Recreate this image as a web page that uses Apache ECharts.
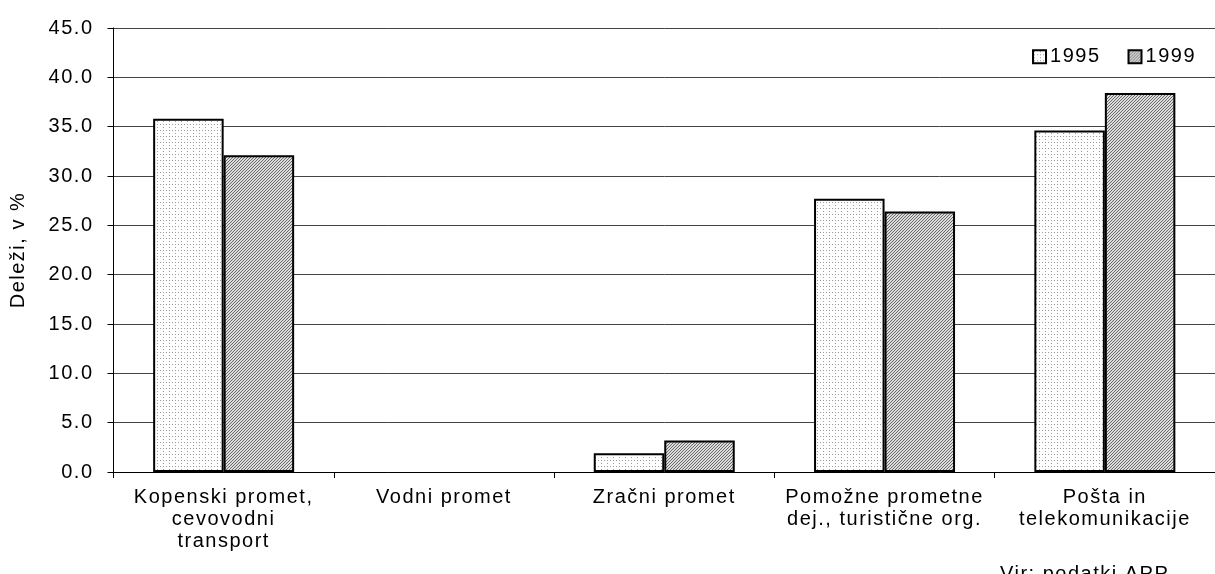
<!DOCTYPE html>
<html>
<head>
<meta charset="utf-8">
<script src="https://cdn.jsdelivr.net/npm/echarts@6/dist/echarts.min.js"></script>
<style>
  html, body { margin: 0; padding: 0; background: #fff; }
  #chart { width: 1215px; height: 574px; }
</style>
</head>
<body>
<div id="chart"></div>
<script>
// 数据
const categories = [
  'Kopenski promet,\ncevovodni\ntransport',
  'Vodni promet',
  'Zračni promet',
  'Pomožne prometne\ndej., turistične org.',
  'Pošta in\ntelekomunikacije'
]
const values1995 = [35.8, null, 1.9, 27.7, 34.6]
const values1999 = [32.1, null, 3.2, 26.4, 38.4]
const yTicks = [0, 5, 10, 15, 20, 25, 30, 35, 40, 45]

// 原图文字字距较宽：给 canvas 文字统一加一点字距（测量和绘制都加，居中才对得上）
const proto = CanvasRenderingContext2D.prototype
;['fillText', 'strokeText', 'measureText'].forEach(function (fn) {
  const orig = proto[fn]
  proto[fn] = function () {
    this.letterSpacing = '1.5px'
    return orig.apply(this, arguments)
  }
})

// 填充图案
function dotPattern () {
  const c = document.createElement('canvas')
  c.width = 6; c.height = 6
  const ctx = c.getContext('2d')
  ctx.fillStyle = '#fff'
  ctx.fillRect(0, 0, 6, 6)
  ctx.fillStyle = '#999'
  ctx.fillRect(1, 1, 1, 1)
  ctx.fillRect(4, 4, 1, 1)
  ctx.fillRect(1, 4, 1, 1)
  return c
}
function hatchPattern () {
  const c = document.createElement('canvas')
  c.width = 3; c.height = 3
  const ctx = c.getContext('2d')
  ctx.fillStyle = '#dcdcdc'
  ctx.fillRect(0, 0, 3, 3)
  ctx.fillStyle = '#6a6a6a'
  for (let i = 0; i < 3; i++) {
    ctx.fillRect(i, 2 - i, 1, 1)
  }
  return c
}
const fill1995 = { image: dotPattern(), repeat: 'repeat' }
const fill1999 = { image: hatchPattern(), repeat: 'repeat' }

const font = 'Liberation Sans, Arial, sans-serif'
const chart = echarts.init(document.getElementById('chart'))
chart.setOption({
  animation: false,
  textStyle: { fontFamily: font, color: '#000' },
  grid: { left: 112, top: 28, width: 1111, height: 444 },
  legend: {
    right: 14,
    top: 41,
    itemWidth: 13,
    itemHeight: 13,
    itemGap: 27,
    icon: 'rect',
    textStyle: { fontSize: 20, fontFamily: font, color: '#000', padding: [0, 0, 0, -1] },
    data: ['1995', '1999']
  },
  xAxis: {
    type: 'category',
    data: categories,
    axisLine: { lineStyle: { color: '#000', width: 1 } },
    axisTick: { show: true, length: 6, lineStyle: { color: '#000' } },
    axisLabel: { fontSize: 20, lineHeight: 22, margin: 14, color: '#000', fontFamily: font, interval: 0 }
  },
  yAxis: {
    type: 'value',
    min: yTicks[0],
    max: yTicks[yTicks.length - 1],
    interval: 5,
    name: 'Deleži, v %',
    nameLocation: 'middle',
    nameGap: 84,
    nameTextStyle: { fontSize: 20, color: '#000', fontFamily: font },
    axisLine: { show: true, lineStyle: { color: '#000', width: 1 } },
    axisTick: { show: true, length: 6, lineStyle: { color: '#000' } },
    axisLabel: { fontSize: 20, margin: 20, color: '#000', fontFamily: font, formatter: v => v.toFixed(1) },
    splitLine: { lineStyle: { color: '#444', width: 1 } }
  },
  series: [
    {
      name: '1995',
      type: 'bar',
      data: values1995,
      barGap: '0%',
      barCategoryGap: '36%',
      itemStyle: { color: fill1995, borderColor: '#000', borderWidth: 2 }
    },
    {
      name: '1999',
      type: 'bar',
      data: values1999,
      itemStyle: { color: fill1999, borderColor: '#000', borderWidth: 2 }
    }
  ],
  graphic: [
    {
      type: 'text',
      left: 1000,
      top: 564,
      style: { text: 'Vir: podatki APP', fontSize: 20, fontFamily: font, fill: '#000' }
    }
  ]
})
</script>
</body>
</html>
